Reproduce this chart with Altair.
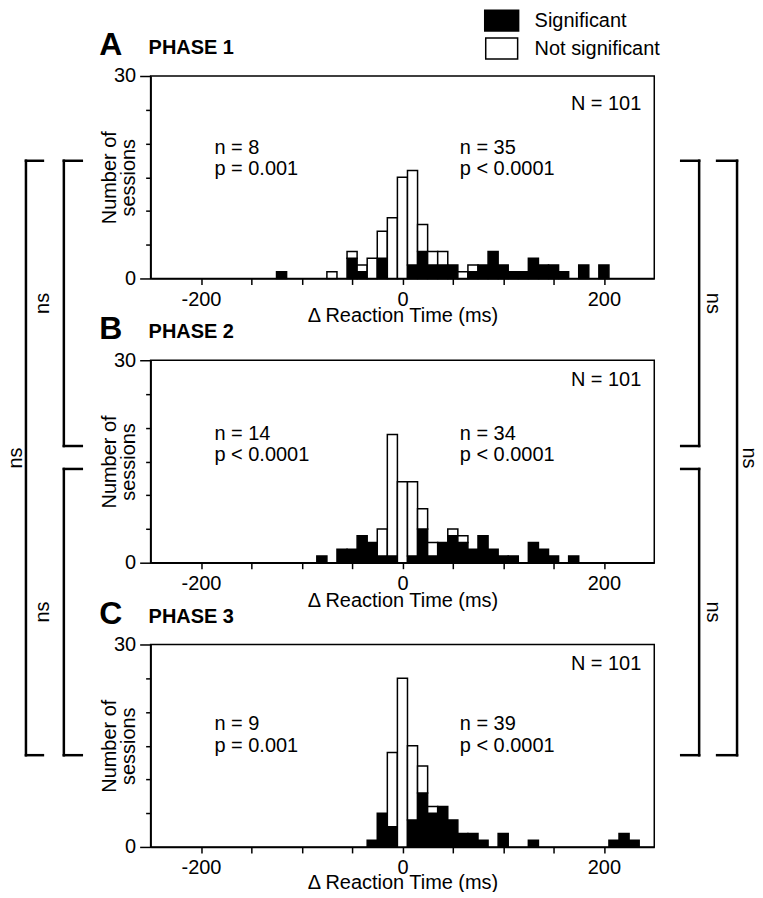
import altair as alt
import pandas as pd

# ---------------- data ----------------
bin_centers = [-120, -110, -100, -90, -80, -70, -60, -50, -40, -30, -20, -10, 0, 10, 20, 30, 40, 50,
               60, 70, 80, 90, 100, 110, 120, 130, 140, 150, 160, 170, 180, 190, 200, 210, 220, 230]

phase1_sig = [1, 0, 0, 0, 0, 0, 0, 3, 1, 0, 3, 0, 0, 2, 4, 2, 2, 2, 0, 1, 2, 4, 2, 1, 1, 3, 2, 2, 1, 0, 2, 0, 2, 0, 0, 0]
phase1_ns = [0, 0, 0, 0, 0, 1, 0, 1, 1, 3, 4, 9, 15, 14, 4, 2, 2, 0, 1, 1, 0, 0, 0, 0, 0, 0, 0, 0, 0, 0, 0, 0, 0, 0, 0, 0]

phase2_sig = [0, 0, 0, 0, 1, 0, 2, 2, 4, 3, 1, 1, 0, 1, 5, 1, 3, 4, 3, 2, 4, 2, 1, 1, 0, 3, 2, 1, 0, 1, 0, 0, 0, 0, 0, 0]
phase2_ns = [0, 0, 0, 0, 0, 0, 0, 0, 0, 0, 4, 18, 12, 11, 3, 2, 0, 1, 1, 0, 0, 0, 0, 0, 0, 0, 0, 0, 0, 0, 0, 0, 0, 0, 0, 0]

phase3_sig = [0, 0, 0, 0, 0, 0, 0, 0, 0, 1, 5, 3, 0, 4, 8, 5, 6, 4, 2, 2, 1, 0, 2, 0, 0, 1, 0, 0, 0, 0, 0, 0, 0, 1, 2, 1]
phase3_ns = [0, 0, 0, 0, 0, 0, 0, 0, 0, 0, 0, 11, 25, 11, 4, 1, 0, 0, 0, 0, 0, 0, 0, 0, 0, 0, 0, 0, 0, 0, 0, 0, 0, 0, 0, 0]

bin_width = 10
legend_labels = ["Significant", "Not significant"]
panel_letters = ["A", "B", "C"]
panel_titles = ["PHASE 1", "PHASE 2", "PHASE 3"]
left_stats = [["n = 8", "p = 0.001"], ["n = 14", "p < 0.0001"], ["n = 9", "p = 0.001"]]
right_stats = [["n = 35", "p < 0.0001"], ["n = 34", "p < 0.0001"], ["n = 39", "p < 0.0001"]]
total_label = "N = 101"
x_ticks = [-200, -150, -100, -50, 0, 50, 100, 150, 200]
y_ticks = [0, 5, 10, 15, 20, 25, 30]
x_title = "Δ Reaction Time (ms)"
y_title = ["Number of", "sessions"]
bracket_label = "ns"

# ---------------- layout ----------------
FONT = "Liberation Sans"
W, H = 505, 203
SPACING = 82
one = pd.DataFrame({"k": [0]})


def hist_df(sig, ns):
    rows = []
    for c, s, n in zip(bin_centers, sig, ns):
        if s:
            rows.append({"lo": c - bin_width / 2, "hi": c + bin_width / 2, "count": s,
                         "status": legend_labels[0], "ord": 0})
        if n:
            rows.append({"lo": c - bin_width / 2, "hi": c + bin_width / 2, "count": n,
                         "status": legend_labels[1], "ord": 1})
    return pd.DataFrame(rows)


def text(t, x, y, size=20, weight="normal", align="left", baseline="alphabetic", angle=0, lh=None):
    kw = dict(text=t, fontSize=size, fontWeight=weight, align=align, baseline=baseline,
              angle=angle, color="black", font=FONT)
    if lh is not None:
        kw["lineHeight"] = lh
    return alt.Chart(one).mark_text(**kw).encode(x=alt.value(x), y=alt.value(y))


def rule(x, y, x2=None, y2=None, w=2.5):
    enc = dict(x=alt.value(x), y=alt.value(y))
    if x2 is not None:
        enc["x2"] = alt.value(x2)
    if y2 is not None:
        enc["y2"] = alt.value(y2)
    return alt.Chart(one).mark_rule(color="black", strokeWidth=w, strokeCap="square").encode(**enc)


def rect(x, x2, y, y2, fill, opacity=1):
    return alt.Chart(one).mark_rect(fill=fill, stroke="black", strokeWidth=1.5,
                                    opacity=opacity).encode(
        x=alt.value(x), x2=alt.value(x2), y=alt.value(y), y2=alt.value(y2))


n_base = [78, 80, 86]
N_base = [34, 26, 26]
title_y = [43.5, 43.5, 41.5]


def panel(i, sig, ns):
    df = hist_df(sig, ns)
    bars = alt.Chart(df).transform_stack(
        stack="count", groupby=["lo"], as_=["y0", "y1"],
        sort=[alt.SortField("ord", order="ascending")]
    ).mark_bar(stroke="black", strokeWidth=1.5).encode(
        x=alt.X("lo:Q", scale=alt.Scale(domain=[-250, 250], nice=False, zero=False),
                axis=alt.Axis(values=x_ticks,
                              labelExpr="datum.value % 200 === 0 ? '' + datum.value : ''",
                              title=x_title, tickSize=6, labelPadding=5, grid=False,
                              labelFontSize=20, titleFontSize=20, titleFontWeight="normal",
                              titleX=W / 2, titleY=title_y[i], titleBaseline="alphabetic",
                              titleAlign="center", labelOverlap=False)),
        x2="hi:Q",
        y=alt.Y("y0:Q", scale=alt.Scale(domain=[0, 30], nice=False),
                axis=alt.Axis(values=y_ticks,
                              labelExpr="datum.value % 30 === 0 ? '' + datum.value : ''",
                              tickSize={"condition": {"test": "datum.value % 30 === 0", "value": 11},
                                        "value": 5},
                              title=y_title, labelPadding=4, labelOverlap=False,
                              grid=False, labelFontSize=20, titleFontSize=20,
                              titleFontWeight="normal", titleAngle=270, titleX=-35.5,
                              titleY=H / 2, titleBaseline="alphabetic", titleAlign="center",
                              titleLineHeight=19)),
        y2="y1:Q",
        fill=alt.Fill("status:N", scale=alt.Scale(domain=legend_labels, range=["black", "white"]),
                      legend=None),
    )

    layers = [bars,
              text(panel_letters[i], -40, -21, size=32, weight="bold", align="center"),
              text(panel_titles[i], -2, -22, size=20, weight="bold"),
              text(left_stats[i], 64, n_base[i], lh=21.5),
              text(right_stats[i], 310, n_base[i], lh=21.5),
              text(total_label, 492, N_base[i], align="right")]

    if i == 0:
        # invisible frame that fixes the overall drawing extent
        layers += [rect(-150, 613, -74, 824, "white", opacity=0)]
        # legend
        layers += [rect(335, 369, -66, -45, "black"),
                   rect(336, 368, -38, -17, "white"),
                   text(legend_labels[0], 385, -55.5, baseline="middle"),
                   text(legend_labels[1], 385, -27.5, baseline="middle")]
        # brackets
        top, mid1, mid2, bot = 85, 371, 394, 681
        # left outer
        layers += [rule(-125, top, y2=bot), rule(-125, top, x2=-108), rule(-125, bot, x2=-108)]
        # left inner
        layers += [rule(-87, top, y2=mid1), rule(-87, top, x2=-69), rule(-87, mid1, x2=-69),
                   rule(-87, mid2, y2=bot), rule(-87, mid2, x2=-69), rule(-87, bot, x2=-69)]
        # right inner
        layers += [rule(550, top, y2=mid1), rule(532, top, x2=550), rule(532, mid1, x2=550),
                   rule(550, mid2, y2=bot), rule(532, mid2, x2=550), rule(532, bot, x2=550)]
        # right outer
        layers += [rule(588, top, y2=bot), rule(568, top, x2=588), rule(568, bot, x2=588)]
        # ns labels
        layers += [text(bracket_label, -129, (top + bot) / 2, angle=270, align="center"),
                   text(bracket_label, -102, (top + mid1) / 2, angle=270, align="center"),
                   text(bracket_label, -102, (mid2 + bot) / 2, angle=270, align="center"),
                   text(bracket_label, 558, (top + mid1) / 2, angle=90, align="center"),
                   text(bracket_label, 558, (mid2 + bot) / 2, angle=90, align="center"),
                   text(bracket_label, 594, (top + bot) / 2, angle=90, align="center")]

    return alt.layer(*layers).properties(width=W, height=H)


p1 = panel(0, phase1_sig, phase1_ns)
p2 = panel(1, phase2_sig, phase2_ns)
p3 = panel(2, phase3_sig, phase3_ns)

chart = alt.vconcat(p1, p2, p3, spacing=SPACING, bounds="flush").properties(
    padding={"left": -8, "top": -8, "right": -8, "bottom": -8},
).configure(font=FONT).configure_view(
    stroke="black", strokeWidth=1.5
).configure_axis(
    domainColor="black", domainWidth=1.5, tickColor="black", tickWidth=1.5,
    labelColor="black", titleColor="black", labelFont=FONT, titleFont=FONT
)

chart.save("out.html", embed_options={"renderer": "svg", "actions": False})
